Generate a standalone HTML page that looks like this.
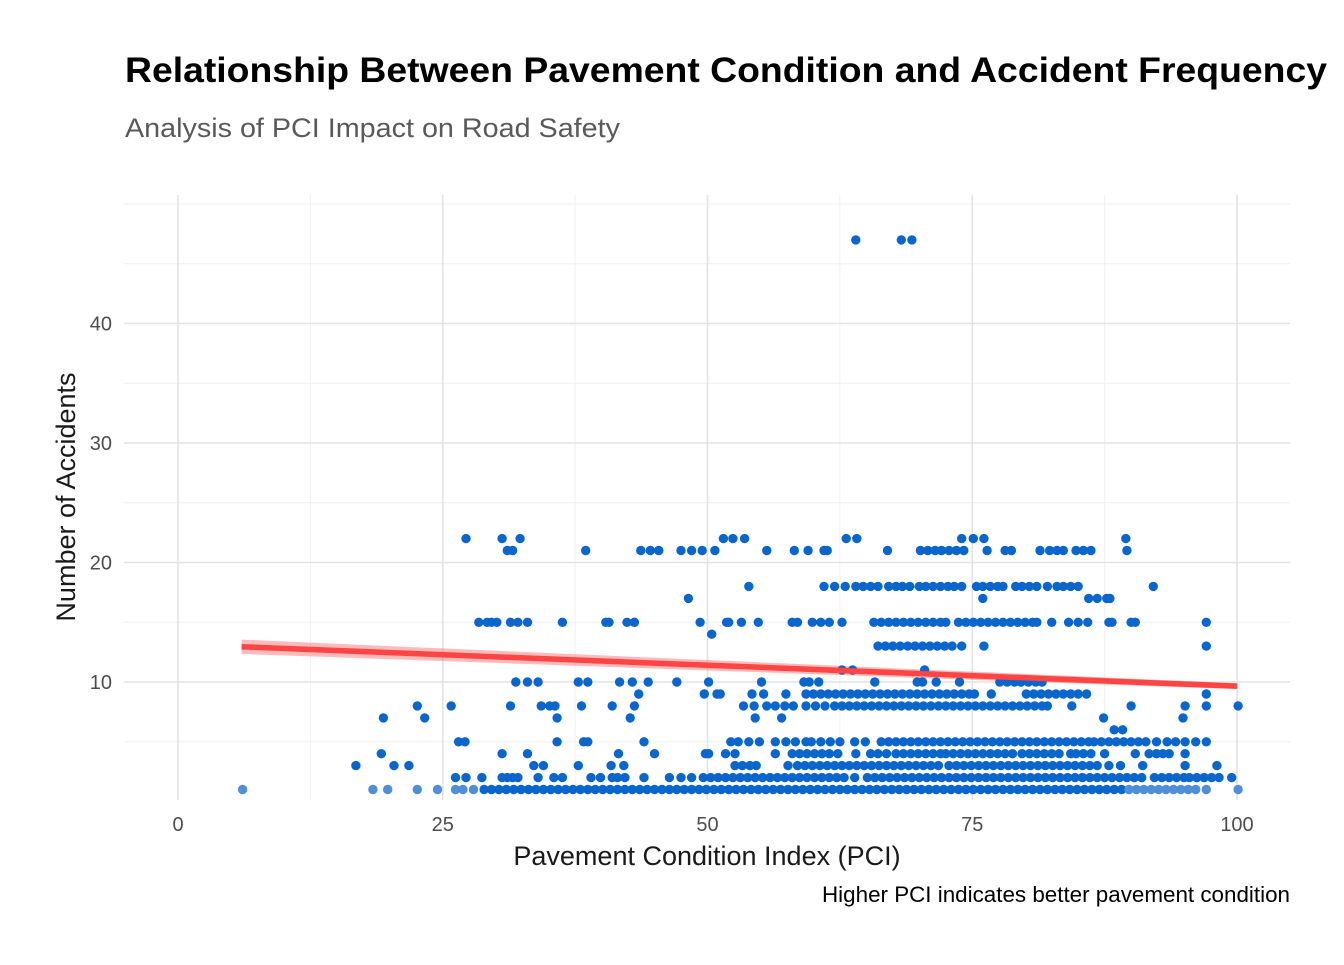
<!DOCTYPE html>
<html><head><meta charset="utf-8"><style>
html,body{margin:0;padding:0;background:#fff;}
svg text{font-family:"Liberation Sans",Arial,sans-serif;}
</style></head><body>
<svg id="chart" width="1344" height="960" xmlns="http://www.w3.org/2000/svg">
<rect width="1344" height="960" fill="#fff"/>
<text x="125" y="82" font-size="35" font-weight="bold" fill="#000" textLength="1202" lengthAdjust="spacingAndGlyphs">Relationship Between Pavement Condition and Accident Frequency</text>
<text x="125" y="137" font-size="27" fill="#595959" textLength="495" lengthAdjust="spacingAndGlyphs">Analysis of PCI Impact on Road Safety</text>
<g id="grid"></g>
<g id="ribbon"></g>
<g id="points"></g>
<g id="fit"></g>
<g id="axes"></g>
<text x="707" y="865" font-size="27" fill="#1a1a1a" text-anchor="middle">Pavement Condition Index (PCI)</text>
<text transform="translate(75,497) rotate(-90)" font-size="27" fill="#1a1a1a" text-anchor="middle">Number of Accidents</text>
<text x="1290" y="902" font-size="22.4" fill="#000" text-anchor="end">Higher PCI indicates better pavement condition</text>
</svg>
<script>
const xTicks = [0, 25, 50, 75, 100];
const xMinor = [12.5, 37.5, 62.5, 87.5];
const yTicks = [10, 20, 30, 40];
const yMinor = [5, 15, 25, 35, 45, 50];
const fitX = [6, 100];
const fitY = [12.95, 9.65];
const fitSE = [0.6, 0.25];
const accLevels = [1,2,3,4,5,6,7,8,9,10,11,13,14,15,17,18,21,22,47];
const pciByLevel = [
 [6.1,18.4,19.8,22.6,24.5,26.2,26.9,27.9,28.9,29.6,30.3,31,31.7,32.4,33.1,33.8,34.5,35.2,35.9,36.6,37.3,38,38.7,39.4,40.1,40.8,41.5,42.2,42.9,43.6,44.3,45,45.7,46.4,47.1,47.8,48.5,49.2,49.9,50.6,51.3,52,52.7,53.4,54.1,54.8,55.5,56.2,56.9,57.6,58.3,59,59.7,60.4,61.1,61.8,62.5,63.2,63.9,64.6,65.3,66,66.7,67.4,68.1,68.8,69.5,70.2,70.9,71.6,72.3,73,73.7,74.4,75.1,75.8,76.5,77.2,77.9,78.6,79.3,80,80.7,81.4,82.1,82.8,83.5,84.2,84.9,85.6,86.3,87,87.7,88.4,89.1,89.8,90.5,91.2,91.9,92.6,93.3,94,94.7,95.4,96.1,97.1,100.1],
 [26.2,27.2,28.7,30.6,31.1,31.6,32.1,34,35.5,36.3,39,39.9,41,41.5,42.2,44,46.4,47.5,48.5,49.6,50.3,51,51.7,52.4,53.1,53.8,54.5,55.2,55.9,56.6,57.3,58,58.7,59.4,60.1,60.8,61.5,62.2,62.9,63.9,65.1,65.8,66.5,67.2,67.9,68.6,69.3,70,70.7,71.4,72.1,72.8,73.5,74.2,74.9,75.6,76.3,77,77.7,78.4,79.1,79.8,80.5,81.2,81.9,82.6,83.3,84,84.7,85.4,86.1,86.8,87.5,88.2,88.9,89.6,90.3,91,92.2,92.9,93.6,94.3,95,95.5,96.2,96.9,97.6,98.3,99.5],
 [16.8,20.4,21.8,33.6,34.5,37.8,40.9,42.1,52.6,53.3,54,54.6,57.6,58.5,59.2,59.9,60.6,61.3,62,62.7,63.4,64.1,64.8,65.5,66.2,66.9,67.6,68.3,69,69.7,70.4,71.1,71.8,72.8,73.5,74.2,74.9,75.6,76.3,77,77.7,78.4,79.1,79.8,80.5,81.2,81.9,82.6,83.3,84,84.7,85.4,86.1,86.8,87.9,89,91.1,95.1,98.1],
 [19.2,30.6,33,41.6,45,49.8,50.1,51.7,52.6,56.4,58,58.7,59.4,60.1,60.8,61.5,62.3,64,65.4,66.1,66.9,67.8,68.5,69.2,69.9,70.6,71.3,72,72.5,73.2,73.9,74.6,75.3,76,76.7,77.4,78.1,78.8,79.7,80.4,81.1,81.8,82.5,83.2,84.3,84.8,85.5,86.2,87.5,90.4,91.7,92.4,93,93.6,95.1],
 [26.5,27.1,35.8,38.3,38.7,44,52.2,52.9,53.9,54.9,56.4,57.4,58.3,59.3,59.8,60.7,61.6,62.5,63.9,64.9,66.4,67.1,67.8,68.5,69.2,69.9,70.6,71.3,72,72.7,73.4,74.1,74.8,75.5,76.2,76.9,77.6,78.3,79,79.7,80.4,81.1,81.8,82.5,83.2,83.9,84.6,85.3,86,86.5,87.2,87.9,88.6,89.3,90,90.7,91.4,92.4,93.4,94.2,95.1,96.1,97.1],
 [88.4,89.2],
 [19.4,23.3,35.8,42.7,54.5,57,87.4,94.9],
 [22.6,25.8,31.4,34.3,35.1,35.6,38.1,41,43.1,53.4,54.4,55.6,56.4,57.3,58.1,59.3,60.2,61.1,62,62.7,63.4,64.1,64.8,65.5,66.2,66.9,67.6,68.3,69,69.7,70.4,71.1,71.8,72.5,73.2,73.9,74.6,75.3,76,76.7,77.4,78.1,78.8,79.5,80.2,80.9,81.6,82.1,84.4,90,95.1,97.1,100.1],
 [43.5,49.7,50.9,51.2,54.2,55.3,57.4,59.3,60,60.7,61.4,62.1,62.8,63.5,64.2,64.9,65.6,66.3,67,67.7,68.4,69.1,69.8,70.5,71.2,71.9,72.6,73.3,74,74.7,75.2,76.8,80.1,80.8,81.5,82.2,82.9,83.6,84.3,85,85.8,97.1],
 [31.9,33,34,37.8,38.7,41.7,42.9,44.4,47.1,50.1,55.1,59.1,59.6,60.5,65.8,69.8,70.3,71.6,73.8,77.6,78.3,79,79.6,80.3,81,81.6],
 [62.7,63.7,70.5],
 [66.1,66.8,67.5,68.2,68.9,69.6,70.3,71,71.7,72.4,73.1,74,76.1,97.1],
 [50.4],
 [28.4,29.2,29.6,30.1,31.4,32.1,33,36.3,40.4,40.7,42.4,43.1,49.3,51.8,52,53.2,54.8,58,58.5,59.9,60.7,61.5,62.7,65.7,66.4,67.1,67.8,68.5,69.2,69.9,70.6,71.3,72,72.5,73.7,74.4,75.1,75.8,76.5,77.2,77.9,78.6,79.3,80,80.7,81.1,82.5,84.1,85,85.9,87.9,88.2,90,90.4,97.1],
 [48.2,76,86,86.8,87.7,88],
 [53.9,61,62,63,64,64.7,65.4,66.1,67.1,67.8,68.4,69.1,70,70.6,71.3,72,72.7,73.3,74,75.4,76,76.7,77.4,77.9,79.1,79.7,80.4,81.1,82.1,83,83.6,84.3,85,92.1],
 [31.1,31.6,38.5,43.7,44.6,45.4,47.5,48.5,49.5,50.7,55.6,58.2,59.5,61,61.3,67,70.1,70.8,71.5,72.1,72.8,73.5,74.2,76.4,78.1,78.7,81.4,82.3,83,83.6,84.8,85.5,86.2,89.6],
 [27.2,30.6,32.3,51.5,52.4,53.5,63.1,64.1,74,75.1,76.1,89.5],
 [64,68.3,69.3]
];
const NS = 'http://www.w3.org/2000/svg';
const X0 = 178, X1 = 1237, Y10 = 682, YPER = 11.95;
const PL = 124, PR = 1290, PT = 195, PB = 800;
function sx(v){ return X0 + (X1 - X0) * v / 100; }
function sy(v){ return Y10 - (v - 10) * YPER; }
function mk(tag, attrs, parent){
  const e = document.createElementNS(NS, tag);
  for (const k in attrs) e.setAttribute(k, attrs[k]);
  parent.appendChild(e);
  return e;
}
const grid = document.getElementById('grid');
xMinor.forEach(v => {
  const l = mk('line', {x1:sx(v), x2:sx(v), y1:PT, y2:PB, stroke:'#f0f0f0', 'stroke-width':1}, grid);
  
  
});
yMinor.forEach(v => {
  const l = mk('line', {x1:PL, x2:PR, y1:sy(v), y2:sy(v), stroke:'#f0f0f0', 'stroke-width':1}, grid);
  
  
});
xTicks.forEach(v => {
  const l = mk('line', {x1:sx(v), x2:sx(v), y1:PT, y2:PB, stroke:'#e3e3e3', 'stroke-width':1.6}, grid);
  
  
});
yTicks.forEach(v => {
  const l = mk('line', {x1:PL, x2:PR, y1:sy(v), y2:sy(v), stroke:'#e3e3e3', 'stroke-width':1.6}, grid);
  
  
});
const axes = document.getElementById('axes');
xTicks.forEach(v => {
  const t = mk('text', {x:sx(v), y:831, 'font-size':20, fill:'#4d4d4d', 'text-anchor':'middle'}, axes);
  t.textContent = String(v);
  
  
});
yTicks.forEach(v => {
  const t = mk('text', {x:112, y:sy(v) + 7, 'font-size':20, fill:'#4d4d4d', 'text-anchor':'end'}, axes);
  t.textContent = String(v);
  
  
});
const pts = document.getElementById('points');
accLevels.forEach((a, i) => {
  pciByLevel[i].forEach(p => {
    const faint = (a === 1 && (p < 28 || p > 89.5));
    const c = mk('circle', {cx:sx(p).toFixed(1), cy:sy(a).toFixed(1), r:4.7, fill: faint ? '#4f8fd8' : '#0a66cc'}, pts);
    
    
  });
});
const rib = document.getElementById('ribbon');
const band = mk('polygon', {points:
  sx(fitX[0])+','+sy(fitY[0]+fitSE[0])+' '+sx(fitX[1])+','+sy(fitY[1]+fitSE[1])+' '+
  sx(fitX[1])+','+sy(fitY[1]-fitSE[1])+' '+sx(fitX[0])+','+sy(fitY[0]-fitSE[0]),
  fill:'#ff5555', 'fill-opacity':0.4}, rib);


const fit = document.getElementById('fit');
const ln = mk('line', {x1:sx(fitX[0]), y1:sy(fitY[0]), x2:sx(fitX[1]), y2:sy(fitY[1]), stroke:'#ff4444', 'stroke-width':5.5}, fit);


</script>
</body></html>
